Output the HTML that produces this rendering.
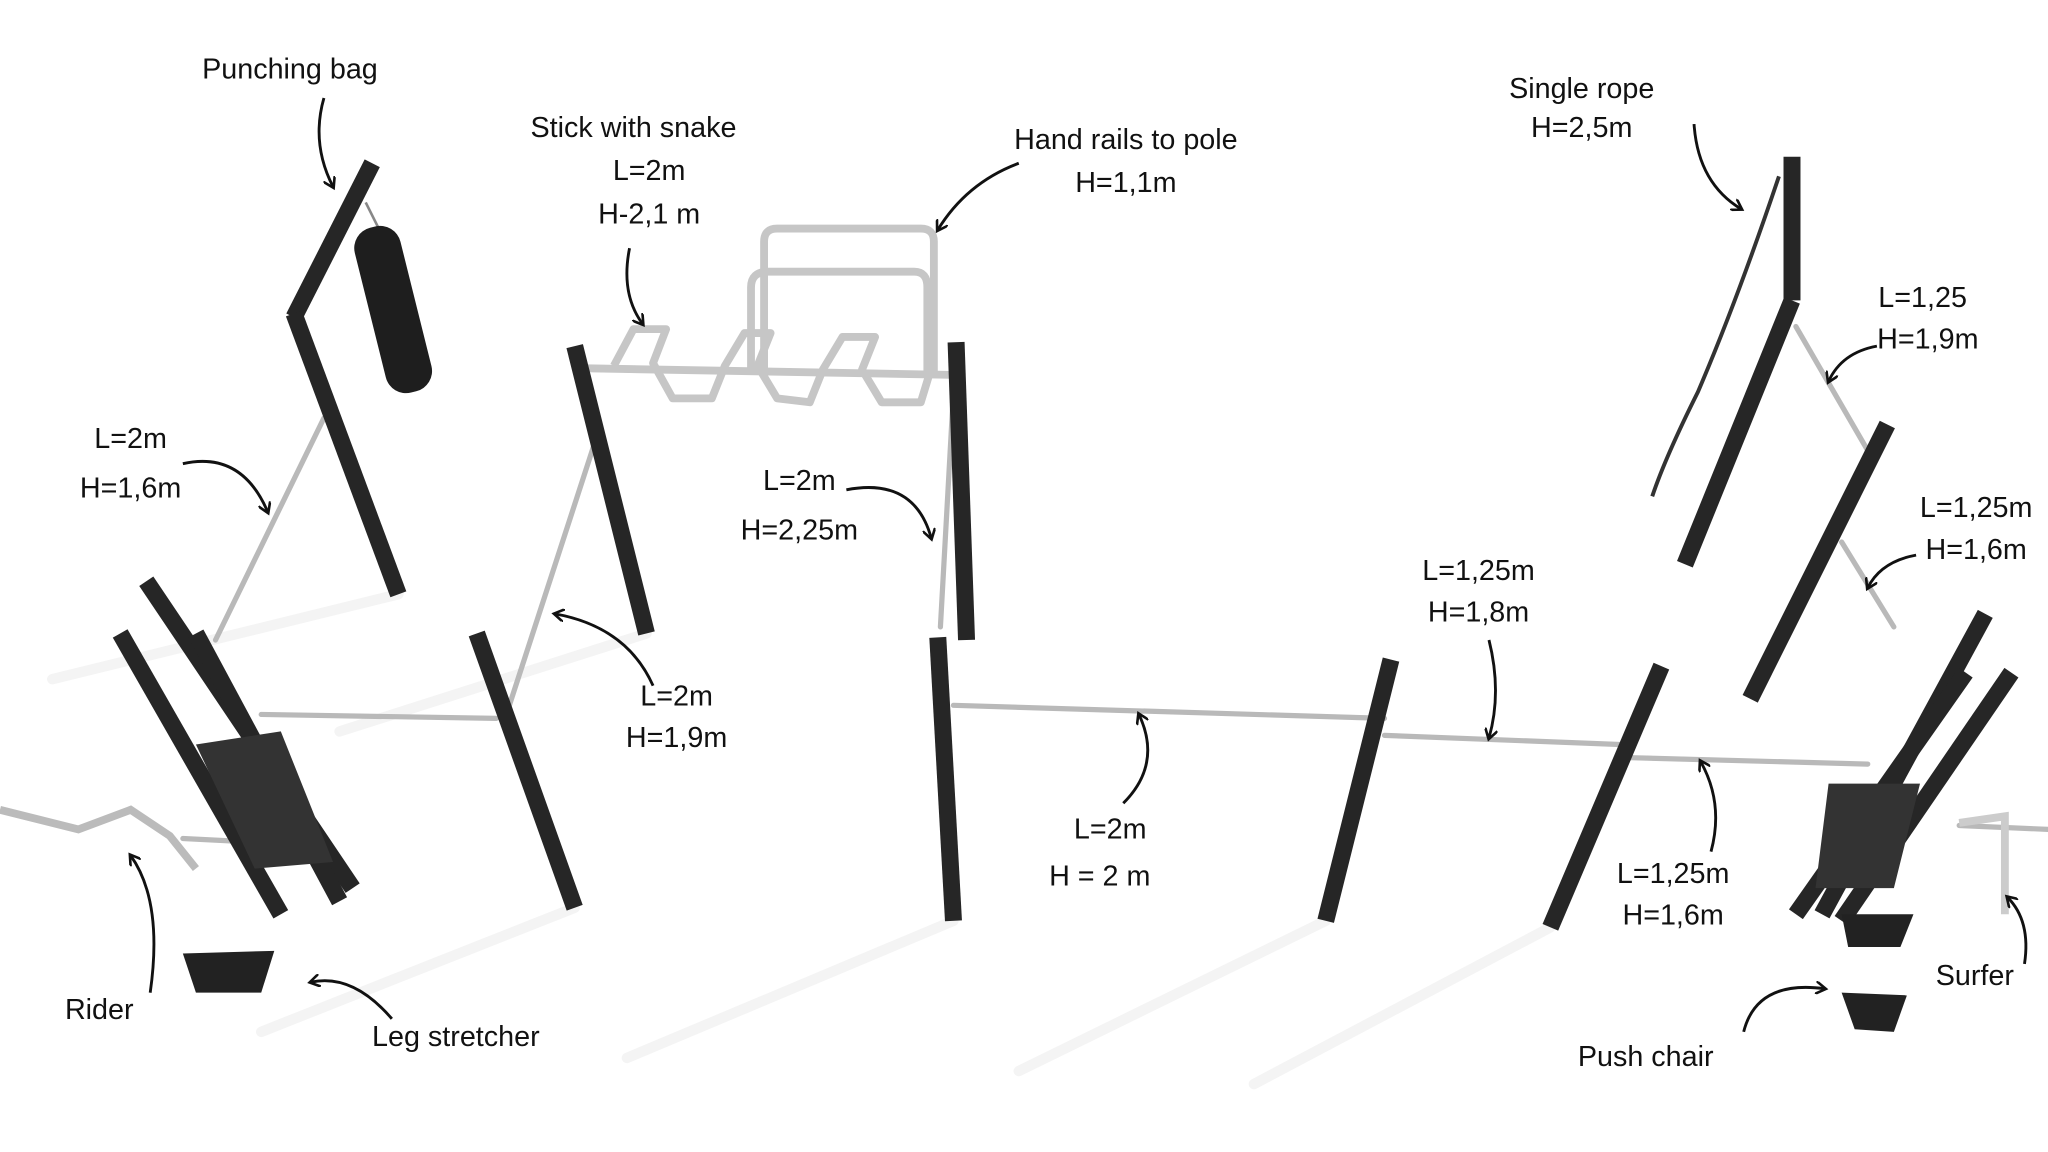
<!DOCTYPE html>
<html><head><meta charset="utf-8"><style>
html,body{margin:0;padding:0;background:#fff;width:2048px;height:1152px;overflow:hidden}
svg{display:block}
text{font-family:"Liberation Sans","DejaVu Sans",sans-serif;font-size:22px;fill:#111;text-anchor:middle}
</style></head><body>
<svg width="2048" height="1152" viewBox="0 0 1568 882" xmlns="http://www.w3.org/2000/svg">
<defs>
<marker id="ah" markerWidth="10" markerHeight="10" refX="7" refY="5" orient="auto" markerUnits="userSpaceOnUse" viewBox="0 0 10 10"><path d="M0,0 L8,5 L0,10" fill="none" stroke="#111" stroke-width="2"/></marker>
</defs>
<rect width="1568" height="882" fill="#fff"/>
<g stroke="#f4f4f4" stroke-width="8" stroke-linecap="round">
<line x1="305" y1="455" x2="40" y2="520"/><line x1="440" y1="695" x2="200" y2="790"/>
<line x1="730" y1="705" x2="480" y2="810"/><line x1="1015" y1="705" x2="780" y2="820"/>
<line x1="1187" y1="710" x2="960" y2="830"/><line x1="495" y1="485" x2="260" y2="560"/>
</g>
<g stroke="#b9b9b9" stroke-width="4" stroke-linecap="round" fill="none">
<line x1="248" y1="320" x2="165" y2="490"/>
<line x1="455" y1="340" x2="390" y2="540"/>
<line x1="730" y1="300" x2="720" y2="480"/>
<line x1="200" y1="547" x2="380" y2="550"/>
<line x1="730" y1="540" x2="1060" y2="550"/>
<line x1="1060" y1="563" x2="1240" y2="570"/>
<line x1="1245" y1="580" x2="1430" y2="585"/>
<line x1="1375" y1="250" x2="1430" y2="345"/>
<line x1="1410" y1="415" x2="1450" y2="480"/>
<line x1="140" y1="642" x2="200" y2="645"/>
<line x1="1500" y1="632" x2="1568" y2="635"/>
</g>
<g stroke="#c6c6c6" stroke-width="6" fill="none" stroke-linejoin="round">
<line x1="450" y1="282" x2="728" y2="287"/>
<path d="M470,280 L485,252 L510,252 L500,278 L515,305 L545,305 L555,280 L570,255 L590,255 L580,280 L595,305 L620,308 L630,283 L645,258 L670,258 L660,283 L675,308 L705,308 L712,285"/>
<path d="M585,285 L585,185 Q585,175 595,175 L705,175 Q715,175 715,185 L715,285"/>
<path d="M575,285 L575,220 Q575,208 588,208 L700,208 Q710,208 710,220 L710,285"/>
</g>
<path d="M1362,135 Q1330,230 1300,300 Q1275,350 1265,380" stroke="#333" stroke-width="3" fill="none"/>
<g stroke="#262626" stroke-width="13" stroke-linecap="butt">
<line x1="285" y1="125" x2="225" y2="243"/>
<line x1="225" y1="240" x2="305" y2="455"/>
<line x1="440" y1="265" x2="495" y2="485"/>
<line x1="732" y1="262" x2="740" y2="490"/>
<line x1="365" y1="485" x2="440" y2="695"/>
<line x1="718" y1="488" x2="730" y2="705"/>
<line x1="1065" y1="505" x2="1015" y2="705"/>
<line x1="1272" y1="510" x2="1187" y2="710"/>
<line x1="1372" y1="120" x2="1372" y2="230"/>
<line x1="1372" y1="230" x2="1290" y2="432"/>
<line x1="1445" y1="325" x2="1340" y2="535"/>
<line x1="112" y1="445" x2="270" y2="680"/>
<line x1="92" y1="485" x2="215" y2="700"/>
<line x1="150" y1="485" x2="260" y2="690"/>
<line x1="1520" y1="470" x2="1395" y2="700"/>
<line x1="1540" y1="515" x2="1410" y2="705"/>
<line x1="1505" y1="515" x2="1375" y2="700"/>
</g>
<line x1="280" y1="155" x2="290" y2="175" stroke="#888" stroke-width="2"/>
<rect x="283" y="172" width="36" height="130" rx="16" fill="#1e1e1e" transform="rotate(-14 301 237)"/>
<polygon points="150,570 215,560 255,660 195,665" fill="#333"/>
<polygon points="1400,600 1470,600 1450,680 1390,680" fill="#333"/>
<polygon points="140,730 210,728 200,760 150,760" fill="#222"/>
<polygon points="1410,700 1465,700 1455,725 1415,725" fill="#222"/>
<polygon points="1410,760 1460,762 1450,790 1420,788" fill="#222"/>
<path d="M0,620 L60,635 L100,620 L130,640 L150,665" stroke="#bbb" stroke-width="6" fill="none"/>
<path d="M1500,630 L1535,625 L1535,700" stroke="#ccc" stroke-width="6" fill="none"/>
<g stroke="#111" stroke-width="2.2" fill="none" marker-end="url(#ah)">
<path d="M248,75 Q238,110 255,143"/>
<path d="M140,355 Q185,345 205,392"/>
<path d="M482,190 Q475,225 492,248"/>
<path d="M780,125 Q740,140 718,176"/>
<path d="M648,375 Q700,365 713,412"/>
<path d="M500,525 Q480,480 425,470"/>
<path d="M1297,95 Q1300,140 1333,160"/>
<path d="M1437,265 Q1410,270 1400,292"/>
<path d="M1467,425 Q1440,430 1430,450"/>
<path d="M1140,490 Q1150,530 1140,565"/>
<path d="M860,615 Q890,585 872,547"/>
<path d="M1310,652 Q1320,615 1302,583"/>
<path d="M115,760 Q125,690 100,655"/>
<path d="M300,780 Q270,745 238,752"/>
<path d="M1335,790 Q1345,750 1397,757"/>
<path d="M1550,738 Q1555,705 1537,687"/>
</g>
<text x="222" y="60">Punching bag</text>
<text x="485" y="105">Stick with snake</text>
<text x="497" y="138">L=2m</text>
<text x="497" y="171">H-2,1 m</text>
<text x="862" y="114">Hand rails to pole</text>
<text x="862" y="147">H=1,1m</text>
<text x="1211" y="75">Single rope</text>
<text x="1211" y="105">H=2,5m</text>
<text x="100" y="343">L=2m</text>
<text x="100" y="381">H=1,6m</text>
<text x="1472" y="235">L=1,25</text>
<text x="1476" y="267">H=1,9m</text>
<text x="1513" y="396">L=1,25m</text>
<text x="1513" y="428">H=1,6m</text>
<text x="612" y="375">L=2m</text>
<text x="612" y="413">H=2,25m</text>
<text x="1132" y="444">L=1,25m</text>
<text x="1132" y="476">H=1,8m</text>
<text x="518" y="540">L=2m</text>
<text x="518" y="572">H=1,9m</text>
<text x="850" y="642">L=2m</text>
<text x="842" y="678">H = 2 m</text>
<text x="1281" y="676">L=1,25m</text>
<text x="1281" y="708">H=1,6m</text>
<text x="76" y="780">Rider</text>
<text x="349" y="801">Leg stretcher</text>
<text x="1260" y="816">Push chair</text>
<text x="1512" y="754">Surfer</text>
</svg>
</body></html>
